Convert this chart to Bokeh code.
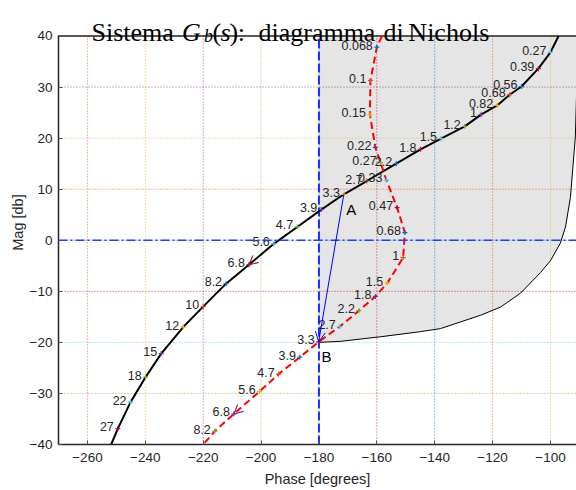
from bokeh.plotting import figure
from bokeh.models import Range1d, FixedTicker, Label, Arrow, OpenHead, Span
from bokeh.core.properties import value
from bokeh.embed import file_html
from bokeh.resources import INLINE

# ---------------- data ----------------
x_ticks = [-260, -240, -220, -200, -180, -160, -140, -120, -100]
y_ticks = [-40, -30, -20, -10, 0, 10, 20, 30, 40]

# G_b Nichols curve (low -> high frequency); endpoints are where it leaves the frame
black_phase = [-97.2, -100.0, -104.2, -110.0, -114.1, -118.4, -124.0, -129.6, -137.8,
               -144.9, -153.3, -163.5, -171.4, -179.2, -187.5, -195.6, -204.2, -212.1,
               -220.0, -226.9, -234.5, -239.9, -245.1, -249.5, -251.8]
black_mag = [40.0, 36.8, 33.6, 30.1, 28.5, 26.4, 24.6, 22.3, 19.9,
             17.8, 15.0, 11.6, 9.0, 6.0, 2.6, -0.7, -4.8, -8.5,
             -13.0, -17.0, -22.2, -26.8, -31.7, -36.9, -40.0]
black_freq = ["", "0.27", "0.39", "0.56", "0.68", "0.82", "1", "1.2", "1.5",
              "1.8", "2.2", "2.7", "3.3", "3.9", "4.7", "5.6", "6.8", "8.2",
              "10", "12", "15", "18", "22", "27", ""]

# second (compensated) Nichols curve
red_phase = [-158.2, -160.0, -162.2, -162.4, -160.5, -158.7, -156.7, -153.0, -150.3,
             -150.9, -156.4, -160.5, -166.2, -172.8, -180.1, -186.6, -193.9, -200.5,
             -209.4, -216.0, -220.0]
red_mag = [40.0, 37.8, 31.3, 24.6, 18.2, 15.2, 11.8, 6.4, 1.5,
           -3.4, -8.4, -11.0, -13.8, -16.9, -19.9, -22.9, -26.2, -29.6,
           -34.0, -37.4, -40.0]
red_freq = ["", "0.068", "0.1", "0.15", "0.22", "0.27", "0.33", "0.47", "0.68",
            "1", "1.5", "1.8", "2.2", "2.7", "3.3", "3.9", "4.7", "5.6",
            "6.8", "8.2", ""]

# boundary of the shaded region
bnd_phase = [-180.0, -172.6, -158.7, -144.9, -138.0, -131.1, -124.2, -117.3, -110.4,
             -103.4, -100.0, -96.6, -94.8, -93.1, -91.4, -90.4]
bnd_mag = [-20.0, -19.8, -18.9, -17.9, -17.3, -16.0, -14.7, -13.1, -10.4,
           -6.3, -4.0, -0.6, 2.6, 8.4, 20.2, 40.0]

crit_phase = -180
crit_mag = 0
point_A = (-168.8, 6.0)
point_B = (-177.4, -22.8)

x_lo, x_hi = -270, -91
y_lo, y_hi = -40, 40

# ---------------- styling ----------------
mcol = ["#0072bd", "#d95319", "#edb120", "#7e2f8e", "#77ac30", "#4dbeee", "#a2142f"]
txt = "#262626"

# the frame reaches the top of the canvas so the title (drawn as text glyphs) is not clipped
p = figure(width=576, height=490, output_backend="svg", toolbar_location=None,
           x_range=Range1d(x_lo, x_hi), y_range=Range1d(y_lo, 46.95),
           min_border_left=58, min_border_right=0, min_border_top=0, min_border_bottom=46)
p.title.visible = False
p.xgrid.visible = False
p.ygrid.visible = False
p.outline_line_color = None
p.background_fill_color = "white"

for ax, ticks in ((p.xaxis, x_ticks), (p.yaxis, y_ticks)):
    ax.ticker = FixedTicker(ticks=ticks)
    ax.major_tick_in = 4
    ax.major_tick_out = 0
    ax.minor_tick_line_color = None
    ax.major_tick_line_color = "#555555"
    ax.axis_line_color = txt
    ax.axis_line_width = 1.5
    ax.major_label_text_font = "Liberation Sans"
    ax.major_label_text_font_size = "13.5px"
    ax.major_label_text_color = txt
    ax.axis_label_text_font = "Liberation Sans"
    ax.axis_label_text_font_size = "14.5px"
    ax.axis_label_text_font_style = "normal"
    ax.axis_label_text_color = txt

p.yaxis.bounds = (y_lo, y_hi)
p.xaxis.axis_label = "Phase [degrees]"
p.yaxis.axis_label = "Mag [db]"
p.xaxis.major_label_standoff = 8
p.xaxis.axis_label_standoff = 6
p.yaxis.major_label_standoff = 6
p.yaxis.axis_label_standoff = 1

# shaded region
p.patch(bnd_phase + [crit_phase], bnd_mag + [y_hi], fill_color="#e5e5e5", line_color=None)

# coloured dotted grid
vcol = [mcol[(i + 1) % 7] for i in range(len(x_ticks))]
hcol = [mcol[(j + 3) % 7] for j in range(len(y_ticks))]
p.segment(x0=x_ticks, y0=[y_lo] * len(x_ticks), x1=x_ticks, y1=[y_hi] * len(x_ticks),
          line_color=vcol, line_dash="1 2", line_width=1, line_alpha=0.8)
p.segment(x0=[x_lo] * len(y_ticks), y0=y_ticks, x1=[x_hi] * len(y_ticks), y1=y_ticks,
          line_color=hcol, line_dash="1 2", line_width=1, line_alpha=0.8)

p.line(bnd_phase, bnd_mag, line_color="black", line_width=1)

# top border of the axes box
p.segment(x0=[x_lo], y0=[y_hi], x1=[x_hi], y1=[y_hi], line_color=txt, line_width=1.5)

# critical lines
p.add_layout(Span(location=crit_mag, dimension="width", line_color="#2040ff",
                  line_dash="9 3 2 3", line_width=1.5))
p.segment(x0=[crit_phase], y0=[y_lo], x1=[crit_phase], y1=[y_hi],
          line_color="#1a2cff", line_dash="9 3", line_width=2)

# curves
p.line(black_phase, black_mag, line_color="black", line_width=2)
p.line(red_phase, red_mag, line_color="#ff0000", line_width=2, line_dash="7 4")

# frequency markers
bcol = [mcol[(k + 5) % 7] for k in range(len(black_freq) - 2)]
rcol = [mcol[k % 7] for k in range(len(red_freq) - 2)]
p.scatter(black_phase[1:-1], black_mag[1:-1], marker="cross", size=5, line_color=bcol, line_width=1.2)
p.scatter(red_phase[1:-1], red_mag[1:-1], marker="cross", size=5, line_color=rcol, line_width=1.2)

# frequency labels
for ph, mg, fr in ((black_phase, black_mag, black_freq), (red_phase, red_mag, red_freq)):
    p.text(x=ph[1:-1], y=mg[1:-1], text=fr[1:-1], text_font=value("Liberation Sans"),
           text_font_size="12.5px", text_align="right", text_baseline="middle",
           x_offset=-4, y_offset=-2, text_color=txt)

# direction arrowheads at w = 6.8
ib = black_freq.index("6.8")
ir = red_freq.index("6.8")
p.add_layout(Arrow(end=OpenHead(size=9, line_color=mcol[6], line_width=1.2),
                   x_start=black_phase[ib - 1], y_start=black_mag[ib - 1],
                   x_end=black_phase[ib], y_end=black_mag[ib], line_alpha=0))
p.add_layout(Arrow(end=OpenHead(size=9, line_color=mcol[3], line_width=1.2),
                   x_start=red_phase[ir - 1], y_start=red_mag[ir - 1],
                   x_end=red_phase[ir], y_end=red_mag[ir], line_alpha=0))

# A -> B arrow
ia = black_freq.index("3.3")
ibb = red_freq.index("3.3")
p.add_layout(Arrow(end=OpenHead(size=10, line_color="#0000ff", line_width=1),
                   x_start=black_phase[ia], y_start=black_mag[ia],
                   x_end=red_phase[ibb], y_end=red_mag[ibb],
                   line_color="#0000ff", line_width=1))
p.text(x=[point_A[0], point_B[0]], y=[point_A[1], point_B[1]], text=["A", "B"],
       text_font=value("Liberation Sans"), text_font_size="15px", text_align="center",
       text_baseline="middle", text_color="black")

# title (pieces so that G_b(s) can be typeset with italics and subscript)
title_parts = [
    ("Sistema", -258.6, 40.76, "normal", "26px"),
    ("G", -227.3, 40.76, "italic", "26px"),
    ("b", -219.7, 40.08, "italic", "18px"),
    ("(", -216.8, 40.76, "normal", "26px"),
    ("s", -214.0, 40.76, "italic", "26px"),
    (")", -210.9, 40.76, "normal", "26px"),
    (":", -208.1, 40.76, "normal", "26px"),
    ("diagramma", -200.9, 40.76, "normal", "26px"),
    ("di", -157.7, 40.76, "normal", "26px"),
    ("Nichols", -149.1, 40.76, "normal", "26px"),
]
for t, tx, ty, st, sz in title_parts:
    p.text(x=[tx], y=[ty], text=[t], text_font=value("Liberation Serif"), text_font_size=sz,
           text_font_style=st, text_align="left", text_baseline="alphabetic", text_color="black")

open("out.html", "w").write(file_html(p, INLINE))
